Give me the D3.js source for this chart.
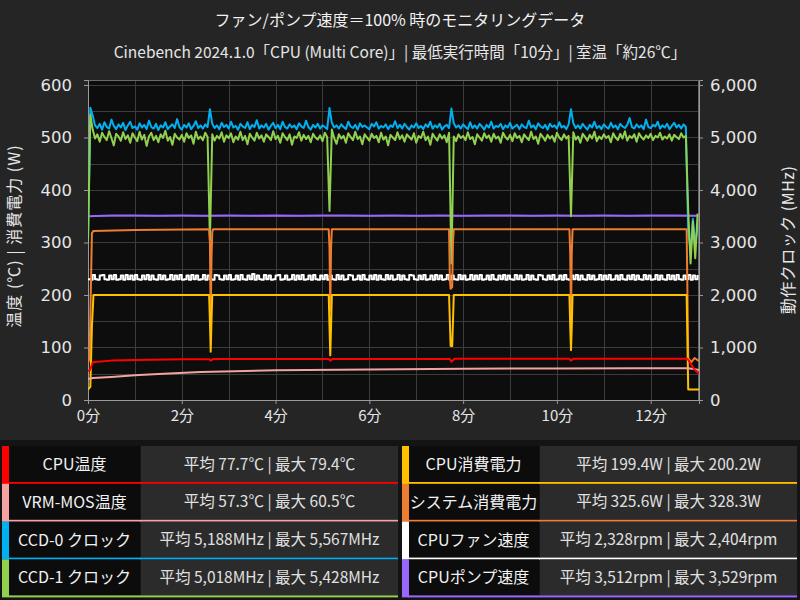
<!DOCTYPE html>
<html>
<head>
<meta charset="utf-8">
<script src="https://cdn.jsdelivr.net/npm/d3@7"></script>
<style>
  body { margin: 0; background: #252525; }
  text { font-family: "Noto Sans CJK JP", "Noto Sans", sans-serif; }
</style>
</head>
<body>
<script>
// samples every 3 seconds (0..780s)
var STEP = 3;
var ccd0Clock = [
  3000,5567,5420,5230,5180,5260,5150,5290,5200,5170,5340,5220,5160,5250,5190,5280,5140,5230,5300,5180,
  5210,5150,5270,5190,5240,5160,5320,5200,5170,5260,5140,5230,5190,5290,5160,5210,5250,5180,5350,5200,
  5150,5240,5190,5270,5160,5220,5310,5180,5230,5170,5250,5200,5540,5260,5180,5230,5160,5280,5200,5240,
  5170,5300,5190,5220,5150,5260,5210,5180,5290,5160,5240,5200,5330,5170,5230,5190,5260,5150,5220,5280,
  5180,5240,5160,5300,5200,5170,5250,5190,5230,5160,5270,5210,5180,5320,5200,5150,5240,5190,5260,5170,
  5230,5200,5160,5560,5280,5190,5230,5170,5250,5200,5160,5300,5210,5180,5240,5150,5270,5200,5230,5190,
  5160,5260,5210,5290,5170,5220,5190,5250,5160,5230,5200,5310,5180,5240,5170,5260,5200,5150,5230,5190,
  5270,5180,5220,5160,5250,5200,5300,5170,5230,5190,5260,5150,5210,5240,5180,5550,5270,5190,5230,5170,
  5250,5200,5160,5290,5180,5230,5170,5260,5210,5150,5240,5190,5300,5170,5220,5200,5260,5160,5230,5190,
  5280,5170,5210,5240,5160,5250,5200,5180,5320,5190,5230,5160,5270,5210,5180,5240,5150,5260,5200,5230,
  5170,5290,5190,5220,5160,5250,5540,5270,5180,5230,5170,5260,5200,5150,5240,5190,5300,5180,5220,5160,
  5250,5200,5170,5280,5190,5230,5160,5260,5210,5180,5240,5370,5200,5170,5250,5190,5230,5160,5340,5200,
  5180,5240,5210,5300,5170,5230,5190,5260,5160,5220,5280,5190,5240,5170,5250,5200,3200,2850,3450,2950,
  3300
];
var ccd1Clock = [
  3000,5428,5150,4980,5060,4920,5090,5010,4950,5120,4990,4850,5070,5020,4940,5100,4970,5040,4900,5080,
  5000,4930,5110,4960,5050,4840,5020,5090,4950,5030,4910,5060,4990,5130,4940,5010,4860,5070,5000,4960,
  5050,4920,5080,4990,5040,4880,5110,4970,5020,4950,5090,5010,3050,5060,4940,5030,4980,5100,4920,5040,
  4990,5080,4910,5020,4960,5110,4950,5030,4870,5070,5000,4940,5090,4980,5040,4920,5060,5010,4950,5120,
  4970,5030,4900,5080,5010,4950,5060,4860,5020,4990,5100,4940,5050,4970,5030,4910,5070,5000,4960,5040,
  4930,5090,5010,3600,5150,4990,4880,5060,4980,5030,4900,5080,5010,4950,5110,4970,5020,4870,5060,5000,
  4940,5070,4990,5030,4910,5090,4960,5020,4850,5050,5000,4950,5100,4970,5040,4920,5060,5010,4960,5080,
  4900,5030,4990,5110,4950,5020,4860,5070,5000,4940,5060,4980,5040,4910,5090,2600,5020,4930,5060,4990,
  5030,4950,5100,4970,5010,4870,5060,5000,4940,5080,4990,5040,4920,5070,4980,5020,4900,5090,5010,4960,
  5050,4930,5080,4990,5030,4910,5060,5000,4950,5110,4970,5020,4880,5070,5010,4940,5050,4980,5030,4920,
  5090,5000,4950,5060,4980,5030,3500,5100,4960,5020,4900,5070,5010,4940,5050,4980,5110,4930,5020,4970,
  5060,4990,5030,4910,5080,5000,4950,5070,4980,5120,4940,5030,4990,5060,4920,5080,5010,4960,5040,4990,
  5070,4950,5030,5000,5090,4960,5020,4980,5060,4940,5050,5010,4970,5080,5000,5030,3600,2600,3400,2700,
  3550
];
var fanRpm = [
  2300,2290,2380,2300,2290,2370,2380,2300,2290,2370,2300,2380,2290,2300,2370,2290,2380,2300,2370,2290,
  2380,2300,2290,2370,2300,2380,2290,2370,2300,2290,2380,2300,2370,2290,2300,2380,2290,2370,2300,2380,
  2290,2300,2370,2290,2380,2300,2370,2290,2300,2380,2290,2370,2300,2290,2380,2370,2300,2290,2370,2300,
  2380,2290,2300,2370,2290,2380,2300,2290,2370,2300,2400,2290,2370,2300,2290,2380,2300,2370,2290,2300,
  2370,2380,2290,2300,2370,2290,2300,2380,2290,2370,2300,2380,2290,2300,2370,2290,2380,2300,2290,2370,
  2300,2380,2290,2370,2300,2290,2380,2300,2370,2290,2300,2380,2370,2290,2300,2370,2290,2380,2300,2290,
  2370,2300,2380,2290,2370,2300,2290,2380,2300,2370,2290,2300,2380,2290,2370,2300,2290,2380,2370,2300,
  2290,2370,2300,2380,2290,2300,2370,2290,2380,2300,2370,2290,2300,2380,2290,2370,2300,2290,2380,2300,
  2370,2290,2300,2380,2290,2370,2300,2380,2290,2300,2370,2290,2380,2300,2290,2370,2300,2380,2290,2370,
  2300,2290,2380,2300,2370,2290,2300,2380,2290,2370,2300,2290,2380,2370,2300,2290,2370,2300,2380,2290,
  2300,2370,2290,2380,2300,2290,2370,2300,2380,2290,2370,2300,2290,2380,2300,2370,2290,2300,2380,2290,
  2370,2300,2380,2290,2300,2370,2290,2380,2300,2290,2370,2300,2380,2290,2370,2300,2290,2380,2300,2370,
  2290,2300,2380,2290,2370,2300,2290,2380,2300,2370,2290,2380,2300,2290,2370,2300,2380,2290,2370,2300,
  2380
];
// pump: one sample every 30 s
var PUMP_STEP = 30;
var pumpRpm = [3500,3512,3515,3510,3513,3508,3514,3511,3516,3509,3512,3515,3510,3513,
               3508,3514,3511,3512,3516,3509,3513,3510,3514,3511,3512,3515,3510];

// [seconds, value] read at the breakpoints
var cpuTemp = [[0,55],[3,58],[6,72],[12,73],[30,75],[60,76],[120,77.5],[155,77.8],[157,75],[160,78],
  [240,78],[308,78],[310,75],[313,78.3],[400,78.3],[463,78.3],[465,73],[469,78.4],[550,78.5],
  [616,78.5],[618,75],[621,78.6],[700,78.6],[767,78.6],[771,70],[776,58],[782,50]];
var vrmTemp = [[0,40],[6,42],[30,44],[60,47],[90,49.5],[144,53.5],[240,56.5],[360,58.3],
  [480,59.5],[600,60.2],[700,60.5],[768,60.5],[775,59],[782,57]];
var cpuPower = [[0,20],[3,25],[5,140],[7,200],[155,200],[156,150],[157,92],[158,150],[159,200],
  [308,200],[309,140],[310,85],[311,140],[312,200],[462,200],[463,150],[464,103],[466,103],[467,150],[468,200],
  [616,200],[617,140],[618,95],[619,140],[620,200],[766,200],[768,20],[782,20]];
var sysPower = [[0,70],[2,80],[5,318],[7,322],[60,324],[155,325],[156,300],[157,150],[158,270],[159,320],[160,325],
  [308,325],[309,290],[310,170],[311,290],[312,325],[462,325],[463,230],[464,212],[466,215],[467,300],[468,325],
  [616,325],[617,280],[618,160],[619,280],[620,325],[766,325],[768,80],[772,72],[776,80],[782,74]];

var leftTicks = [0, 100, 200, 300, 400, 500, 600];
var rightTicks = [0, 1000, 2000, 3000, 4000, 5000, 6000];
var xTicks = [0, 2, 4, 6, 8, 10, 12];

var legendNames = ["CPU温度", "VRM-MOS温度", "CCD-0 クロック", "CCD-1 クロック",
                   "CPU消費電力", "システム消費電力", "CPUファン速度", "CPUポンプ速度"];
var legendAvg = ["77.7℃", "57.3℃", "5,188MHz", "5,018MHz", "199.4W", "325.6W", "2,328rpm", "3,512rpm"];
var legendMax = ["79.4℃", "60.5℃", "5,567MHz", "5,428MHz", "200.2W", "328.3W", "2,404rpm", "3,529rpm"];
var legendColors = ["#ff0000", "#f4a3a3", "#00b0f0", "#92d050", "#ffc000", "#ed7d31", "#ffffff", "#9966ff"];

var W = 800, H = 600;
var plot = {left: 88, right: 699, top: 80, bottom: 400};
var numFont = "\"DejaVu Sans\", sans-serif";

var svg = d3.select("body").append("svg")
  .attr("width", W)
  .attr("height", H)
  .style("background-color", "#252525");

var x = d3.scaleLinear().domain([0, 13.03]).range([plot.left, plot.right]);
var yL = d3.scaleLinear().domain([0, 609.5]).range([plot.bottom, plot.top]);
var yR = d3.scaleLinear().domain([0, 6095]).range([plot.bottom, plot.top]);

// titles
svg.append("text").attr("x", 400).attr("y", 26).attr("text-anchor", "middle")
  .style("font-size", "16px").style("fill", "#f2f2f2")
  .text("ファン/ポンプ速度＝100% 時のモニタリングデータ");
svg.append("text").attr("x", 400).attr("y", 58).attr("text-anchor", "middle")
  .style("font-size", "15.5px").style("fill", "#e6e6e6")
  .text("Cinebench 2024.1.0「CPU (Multi Core)」| 最低実行時間「10分」| 室温「約26℃」");

// plot background
svg.append("rect")
  .attr("x", plot.left).attr("y", plot.top)
  .attr("width", plot.right - plot.left).attr("height", plot.bottom - plot.top)
  .style("fill", "#0d0d0d");

// grid
svg.append("g").selectAll("line")
  .data(d3.range(50, 601, 50))
  .enter().append("line")
  .attr("x1", plot.left).attr("x2", plot.right)
  .attr("y1", function(d) { return Math.round(yL(d)) + 0.5; })
  .attr("y2", function(d) { return Math.round(yL(d)) + 0.5; })
  .style("stroke", "#3c3c3c");
svg.append("g").selectAll("line")
  .data(d3.range(1, 13.5, 1))
  .enter().append("line")
  .attr("y1", plot.top).attr("y2", plot.bottom)
  .attr("x1", function(d) { return Math.round(x(d)) + 0.5; })
  .attr("x2", function(d) { return Math.round(x(d)) + 0.5; })
  .style("stroke", "#3c3c3c");

// frame
svg.append("rect")
  .attr("x", plot.left + 0.5).attr("y", plot.top + 0.5)
  .attr("width", plot.right - plot.left - 1).attr("height", plot.bottom - plot.top)
  .style("fill", "none").style("stroke", "#6a6a6a");

// axes
function styleAxis(g) {
  g.select(".domain").style("stroke", "#9a9a9a");
  g.selectAll(".tick line").style("stroke", "#9a9a9a");
  g.selectAll(".tick text").style("fill", "#e6e6e6").style("font-size", "16.5px")
    .style("font-family", numFont);
}
svg.append("g").attr("transform", "translate(" + plot.left + ",0)")
  .call(d3.axisLeft(yL).tickValues(leftTicks).tickSizeOuter(0).tickSize(4).tickPadding(12))
  .call(styleAxis);
svg.append("g").attr("transform", "translate(" + plot.right + ",0)")
  .call(d3.axisRight(yR).tickValues(rightTicks).tickSizeOuter(0).tickSize(4).tickFormat(d3.format(",")).tickPadding(7))
  .call(styleAxis);
svg.append("g").attr("transform", "translate(0," + plot.bottom + ")")
  .call(d3.axisBottom(x).tickValues(xTicks).tickSizeOuter(0).tickSize(4)
    .tickFormat(function(d) { return d + "分"; }).tickPadding(6))
  .call(styleAxis)
  .selectAll(".tick text").style("font-size", "15px")
  .style("font-family", "\"Noto Sans CJK JP\", sans-serif");

svg.append("text")
  .attr("transform", "translate(14,236) rotate(-90)")
  .attr("text-anchor", "middle").attr("dy", "0.35em")
  .style("font-size", "16px").style("letter-spacing", "1px").style("fill", "#e6e6e6")
  .text("温度 (℃) | 消費電力 (W)");
svg.append("text")
  .attr("transform", "translate(788,240) rotate(-90)")
  .attr("text-anchor", "middle").attr("dy", "0.35em")
  .style("font-size", "16px").style("letter-spacing", "0.5px").style("fill", "#e6e6e6")
  .text("動作クロック (MHz)");

// lines
var clip = svg.append("clipPath").attr("id", "clip").append("rect")
  .attr("x", plot.left).attr("y", plot.top)
  .attr("width", plot.right - plot.left).attr("height", plot.bottom - plot.top);
var lines = svg.append("g").attr("clip-path", "url(#clip)");

function sampled(values, step, scale) {
  return d3.line()
    .x(function(d, i) { return x(i * step / 60); })
    .y(function(d) { return scale(d); })(values);
}
function pairs(values, scale) {
  return d3.line()
    .x(function(d) { return x(d[0] / 60); })
    .y(function(d) { return scale(d[1]); })(values);
}
function draw(d, color) {
  lines.append("path").attr("d", d)
    .style("fill", "none").style("stroke", color)
    .style("stroke-width", 2).style("stroke-linejoin", "round");
}

draw(d3.line().curve(d3.curveStepAfter)
  .x(function(d, i) { return x(i * STEP / 60); })
  .y(function(d) { return yR(d); })(fanRpm), legendColors[6]);
draw(sampled(pumpRpm, PUMP_STEP, yR), legendColors[7]);
draw(sampled(ccd0Clock, STEP, yR), legendColors[2]);
draw(sampled(ccd1Clock, STEP, yR), legendColors[3]);
draw(pairs(sysPower, yL), legendColors[5]);
draw(pairs(cpuPower, yL), legendColors[4]);
draw(pairs(vrmTemp, yL), legendColors[1]);
draw(pairs(cpuTemp, yL), legendColors[0]);

// legend table
svg.append("rect").attr("x", 0).attr("y", 440).attr("width", W).attr("height", 160)
  .style("fill", "#141414");
var rowTop = 446, rowPitch = 37.8, cellH = 36;
legendNames.forEach(function(name, k) {
  var col = k < 4 ? 0 : 1, row = k % 4;
  var bx = col === 0 ? 2 : 402;
  var lx = col === 0 ? 9 : 408, lw = 131;
  var vx = lx + lw + 1, vw = col === 0 ? 398 - vx : 797 - vx;
  var top = rowTop + row * rowPitch;
  var g = svg.append("g");
  g.append("rect").attr("x", lx).attr("y", top).attr("width", lw).attr("height", cellH).style("fill", "#0c0c0c");
  g.append("rect").attr("x", vx).attr("y", top).attr("width", vw).attr("height", cellH).style("fill", "#2b2b2b");
  g.append("rect").attr("x", bx).attr("y", top).attr("width", 7).attr("height", cellH + 2).style("fill", legendColors[k]);
  g.append("rect").attr("x", lx).attr("y", top + cellH).attr("width", vx + vw - lx).attr("height", 2).style("fill", legendColors[k]);
  g.append("text").attr("x", lx + lw / 2).attr("y", top + cellH / 2 + 6)
    .attr("text-anchor", "middle").style("font-size", "16px").style("fill", "#f2f2f2").text(name);
  g.append("text").attr("x", vx + vw / 2).attr("y", top + cellH / 2 + 5.5)
    .attr("text-anchor", "middle").style("font-size", "15.5px").style("fill", "#e0e0e0")
    .text("平均 " + legendAvg[k] + " | 最大 " + legendMax[k]);
});
</script>
</body>
</html>
